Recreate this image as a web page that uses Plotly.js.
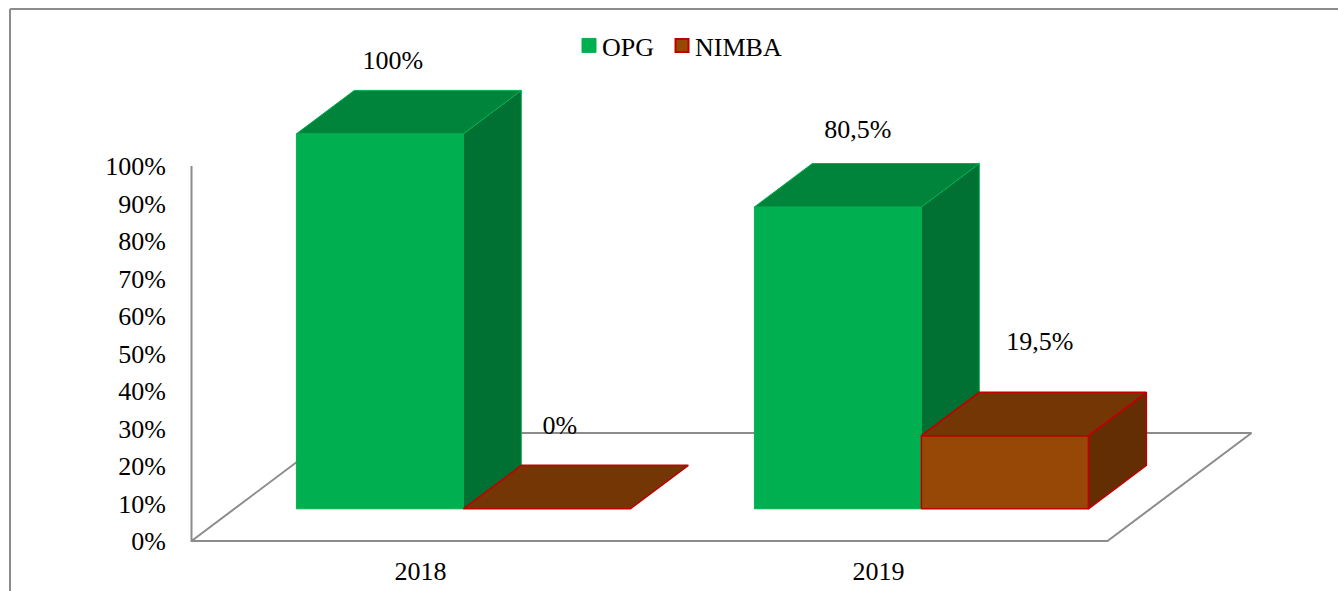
<!DOCTYPE html>
<html>
<head>
<meta charset="utf-8">
<script src="https://cdn.plot.ly/plotly-3.0.0.min.js"></script>
<style>html,body{margin:0;padding:0;background:#fff;overflow:hidden}#chart{width:1338px;height:591px}</style>
</head>
<body>
<div id="chart"></div>
<script>
// ---- data ----
var categories = ['2018', '2019'];
var opgValues = [100, 80.5];
var nimbaValues = [0, 19.5];
var opgLabels = ['100%', '80,5%'];
var nimbaLabels = ['0%', '19,5%'];
var percentTicks = [0, 10, 20, 30, 40, 50, 60, 70, 80, 90, 100];
var percentTickText = ['0%', '10%', '20%', '30%', '40%', '50%', '60%', '70%', '80%', '90%', '100%'];

// ---- layout constants ----
var W = 1338, H = 591;
var FONT = '"Liberation Serif", "Times New Roman", serif';
var FONT_SIZE = 26;
var PX_PER_CAT = 458, PX_PER_PCT = 3.75;
var CAT0_PX = 420.5, ZERO_PX = 541;
var LEFT = 185, BOTTOM_PX = 548;

// Oblique projection of the floor depth (0 = front edge, 1 = back wall)
var DEPTH_X = 144 / PX_PER_CAT, DEPTH_Y = 108 / PX_PER_PCT;
var BAR_FRONT = 0.298, BAR_BACK = 0.70, BAR_WIDTH = 167 / PX_PER_CAT;
function px(x, v, d) { return [x + d * DEPTH_X, v + d * DEPTH_Y]; }

var traces = [];
function face(points, fill, line, lw) {
  traces.push({
    type: 'scatter', mode: 'lines', fill: 'toself', fillcolor: fill,
    x: points.map(function (p) { return p[0]; }),
    y: points.map(function (p) { return p[1]; }),
    line: { color: line, width: lw }, hoverinfo: 'skip', showlegend: false
  });
}
function box(x0, x1, v, c, line, lw) {
  var f = BAR_FRONT, b = BAR_BACK;
  if (v > 0) {
    face([px(x1, 0, f), px(x1, 0, b), px(x1, v, b), px(x1, v, f), px(x1, 0, f)], c.side, line, lw);
    face([px(x0, 0, f), px(x1, 0, f), px(x1, v, f), px(x0, v, f), px(x0, 0, f)], c.front, line, lw);
  }
  face([px(x0, v, f), px(x1, v, f), px(x1, v, b), px(x0, v, b), px(x0, v, f)], c.top, line, lw);
}

// Floor outline and back-wall axis
traces.push({
  type: 'scatter', mode: 'lines', hoverinfo: 'skip', showlegend: false,
  x: [px(-0.5, 100, 0)[0], px(-0.5, 0, 0)[0], px(1.5, 0, 0)[0], px(1.5, 0, 1)[0], px(-0.5, 0, 1)[0], px(-0.5, 0, 0)[0]],
  y: [100, 0, 0, DEPTH_Y, DEPTH_Y, 0],
  line: { color: '#8c8c8c', width: 2 }
});

var GREEN = { front: '#00B050', top: '#00843C', side: '#007033' };
var BROWN = { front: '#974706', top: '#743604', side: '#632E04' };

categories.forEach(function (c, i) {
  box(i - BAR_WIDTH, i, opgValues[i], GREEN, '#00B050', 1);
  box(i, i + BAR_WIDTH, nimbaValues[i], BROWN, '#C00000', 1.6);
});

// Data labels: pixel nudges relative to each bar's front-top centre
var opgNudge = [[13, 71], [20, 75]];
var nimbaNudge = [[13, 81], [35, 92]];
function labelTrace(values, labels, nudge, sign) {
  return {
    type: 'scatter', mode: 'text', hoverinfo: 'skip', showlegend: false, cliponaxis: false,
    x: values.map(function (v, i) {
      return i + sign * BAR_WIDTH / 2 + BAR_FRONT * DEPTH_X + nudge[i][0] / PX_PER_CAT;
    }),
    y: values.map(function (v, i) { return v + BAR_FRONT * DEPTH_Y + nudge[i][1] / PX_PER_PCT; }),
    text: labels, textposition: 'middle center',
    textfont: { family: FONT, size: FONT_SIZE, color: '#000' }
  };
}
traces.push(labelTrace(opgValues, opgLabels, opgNudge, -1));
traces.push(labelTrace(nimbaValues, nimbaLabels, nimbaNudge, 1));

// Legend keys
traces.push({ type: 'scatter', mode: 'markers', name: 'OPG', x: [null], y: [null],
  marker: { symbol: 'square', size: 14, color: '#00B050', line: { color: '#00B050', width: 1 } } });
traces.push({ type: 'scatter', mode: 'markers', name: 'NIMBA', x: [null], y: [null],
  marker: { symbol: 'square', size: 13, color: '#974706', line: { color: '#C00000', width: 2 } } });

var plotH = BOTTOM_PX, plotW = W - LEFT;
function fx(p) { return (p - LEFT) / plotW; }
function fy(p) { return (BOTTOM_PX - p) / plotH; }

var layout = {
  width: W, height: H, autosize: false,
  margin: { l: LEFT, r: 0, t: 0, b: H - BOTTOM_PX, pad: 0 },
  paper_bgcolor: '#fff', plot_bgcolor: '#fff',
  font: { family: FONT, size: FONT_SIZE, color: '#000' },
  showlegend: true,
  legend: {
    orientation: 'h', x: fx(562), y: fy(22), xanchor: 'left', yanchor: 'top',
    bgcolor: 'rgba(0,0,0,0)', font: { family: FONT, size: FONT_SIZE, color: '#000' },
    itemclick: false, itemdoubleclick: false
  },
  xaxis: {
    range: [(LEFT - CAT0_PX) / PX_PER_CAT, (W - CAT0_PX) / PX_PER_CAT],
    tickmode: 'array', tickvals: categories.map(function (c, i) { return i; }), ticktext: categories,
    showgrid: false, zeroline: false, showline: false,
    ticks: 'outside', ticklen: 0, tickcolor: 'rgba(0,0,0,0)', fixedrange: true
  },
  yaxis: {
    range: [(ZERO_PX - BOTTOM_PX) / PX_PER_PCT, ZERO_PX / PX_PER_PCT],
    tickmode: 'array', tickvals: percentTicks, ticktext: percentTickText,
    showgrid: false, zeroline: false, showline: false,
    ticks: 'outside', ticklen: 13, tickcolor: 'rgba(0,0,0,0)', fixedrange: true
  },
  shapes: [
    { type: 'line', xref: 'paper', yref: 'paper', x0: fx(10), x1: fx(W), y0: fy(9), y1: fy(9), line: { color: '#8c8c8c', width: 2 } },
    { type: 'line', xref: 'paper', yref: 'paper', x0: fx(10), x1: fx(10), y0: fy(9), y1: fy(H), line: { color: '#8c8c8c', width: 2 } }
  ]
};
Plotly.newPlot('chart', traces, layout, { displayModeBar: false, staticPlot: true }).then(function (gd) {
  // Plotly fixes a wide gap between legend key and text; pull the keys closer as in the reference.
  gd.querySelectorAll('.legendpoints').forEach(function (g) {
    g.setAttribute('transform', 'translate(7,0)');
  });
  // Tighten the space between the two legend entries.
  var items = gd.querySelectorAll('.legend .traces');
  if (items.length > 1) {
    var m = /translate\(\s*([-\d.]+)[ ,]+([-\d.]+)/.exec(items[1].getAttribute('transform') || '');
    if (m) items[1].setAttribute('transform', 'translate(' + (parseFloat(m[1]) - 4) + ',' + m[2] + ')');
  }
});
</script>
</body>
</html>
